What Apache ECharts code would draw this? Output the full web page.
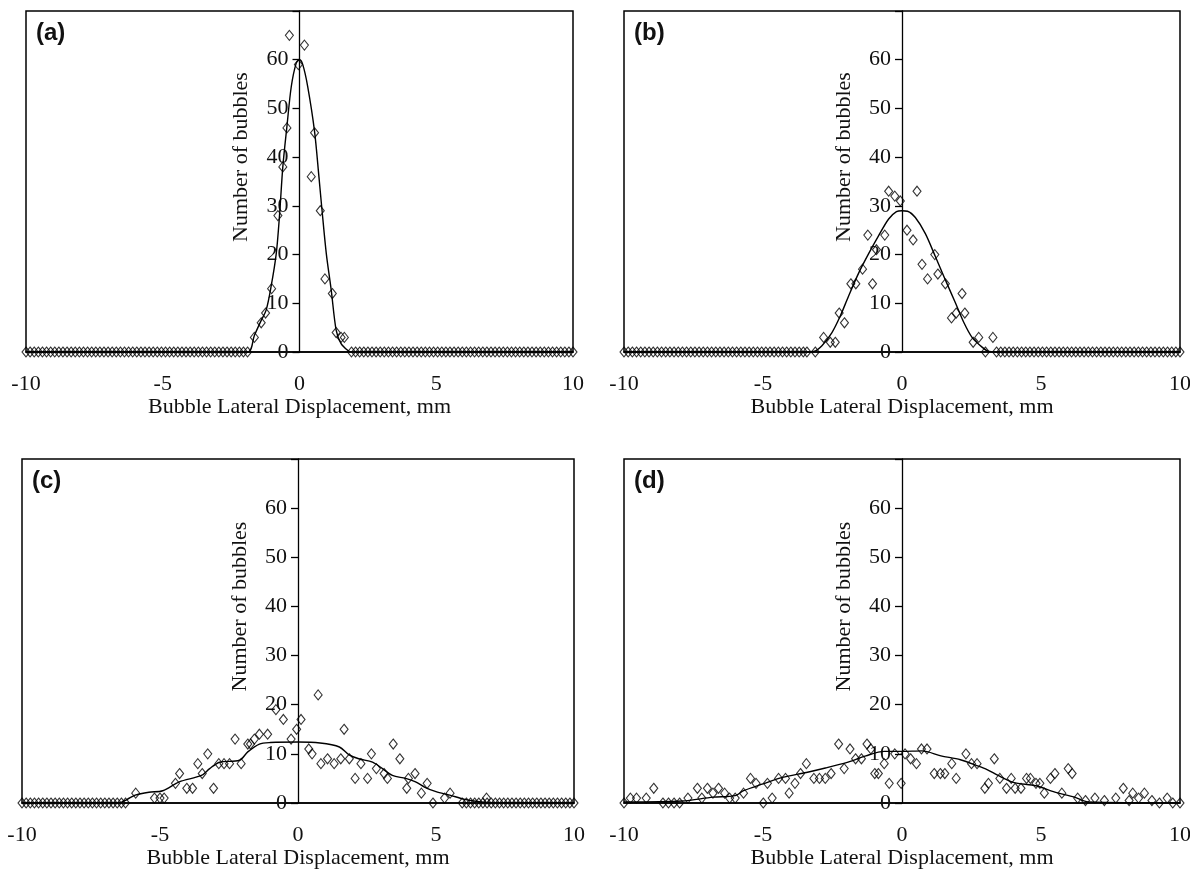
<!DOCTYPE html>
<html>
<head>
<meta charset="utf-8">
<title>Bubble lateral displacement distributions</title>
<script src="https://cdn.jsdelivr.net/npm/echarts@6/dist/echarts.min.js"></script>
<style>
  html, body { margin: 0; padding: 0; background: #ffffff; }
  #chart { width: 1190px; height: 877px; }
</style>
</head>
<body>
<div id="chart"></div>
<script>
// ---------- axis ticks ----------
const xTicks = [-10, -5, 0, 5, 10];
const yTicks = [0, 10, 20, 30, 40, 50, 60];

// ---------- panel (a) ----------
const aX = [-1.65, -1.40, -1.24, -1.02, -0.79, -0.61, -0.46, -0.37, -0.04, 0.18, 0.43, 0.55, 0.76, 0.93, 1.20, 1.34, 1.52, 1.64];
const aN = [3, 6, 8, 13, 28, 38, 46, 65, 59, 63, 36, 45, 29, 15, 12, 4, 3, 3];
const aEmpty = [-10,-9.85,-9.7,-9.55,-9.4,-9.25,-9.1,-8.95,-8.8,-8.65,-8.5,-8.35,-8.2,-8.05,-7.9,-7.75,-7.6,-7.45,-7.3,-7.15,-7,-6.85,-6.7,-6.55,-6.4,-6.25,-6.1,-5.95,-5.8,-5.65,-5.5,-5.35,-5.2,-5.05,-4.9,-4.75,-4.6,-4.45,-4.3,-4.15,-4,-3.85,-3.7,-3.55,-3.4,-3.25,-3.1,-2.95,-2.8,-2.65,-2.5,-2.35,-2.2,-2.05,-1.9,
  1.9,2.05,2.2,2.35,2.5,2.65,2.8,2.95,3.1,3.25,3.4,3.55,3.7,3.85,4,4.15,4.3,4.45,4.6,4.75,4.9,5.05,5.2,5.35,5.5,5.65,5.8,5.95,6.1,6.25,6.4,6.55,6.7,6.85,7,7.15,7.3,7.45,7.6,7.75,7.9,8.05,8.2,8.35,8.5,8.65,8.8,8.95,9.1,9.25,9.4,9.55,9.7,9.85,10];
const aFitX = [-10, -1.9, -1.65, -1.4, -1.22, -1.04, -0.85, -0.73, -0.61, -0.46, -0.3, -0.12, 0, 0.12, 0.3, 0.55, 0.71, 0.82, 0.98, 1.16, 1.34, 1.52, 1.77, 1.9, 10];
const aFitY = [0, 0, 3.4, 6.5, 8.6, 13.4, 20.2, 28.1, 38, 46.3, 54.5, 59.3, 60, 59, 54.5, 45.3, 36, 29.3, 20.2, 12.7, 4.5, 1.7, 0.3, 0, 0];

// ---------- panel (b) ----------
const bX = [-3.42, -3.12, -2.82, -2.58, -2.40, -2.26, -2.07, -1.84, -1.66, -1.42, -1.23, -1.06, -0.92, -0.62, -0.48, -0.26, -0.06, 0.18, 0.40, 0.54, 0.72, 0.92, 1.18, 1.29, 1.56, 1.78, 1.95, 2.16, 2.26, 2.56, 2.76, 3.00, 3.27];
const bN = [0, 0, 3, 2, 2, 8, 6, 14, 14, 17, 24, 14, 21, 24, 33, 32, 31, 25, 23, 33, 18, 15, 20, 16, 14, 7, 8, 12, 8, 2, 3, 0, 3];
const bEmpty = [-10,-9.85,-9.7,-9.55,-9.4,-9.25,-9.1,-8.95,-8.8,-8.65,-8.5,-8.35,-8.2,-8.05,-7.9,-7.75,-7.6,-7.45,-7.3,-7.15,-7,-6.85,-6.7,-6.55,-6.4,-6.25,-6.1,-5.95,-5.8,-5.65,-5.5,-5.35,-5.2,-5.05,-4.9,-4.75,-4.6,-4.45,-4.3,-4.15,-4,-3.85,-3.7,-3.55,
  3.4,3.55,3.7,3.85,4,4.15,4.3,4.45,4.6,4.75,4.9,5.05,5.2,5.35,5.5,5.65,5.8,5.95,6.1,6.25,6.4,6.55,6.7,6.85,7,7.15,7.3,7.45,7.6,7.75,7.9,8.05,8.2,8.35,8.5,8.65,8.8,8.95,9.1,9.25,9.4,9.55,9.7,9.85,10];
const bFitX = [-10, -3.4, -3.18, -2.88, -2.52, -2.22, -1.92, -1.56, -1.2, -0.84, -0.48, -0.2, 0, 0.2, 0.48, 0.84, 1.2, 1.56, 1.92, 2.22, 2.52, 2.88, 3.12, 3.4, 10];
const bFitY = [0, 0, 0.1, 1.3, 4, 7.4, 11.5, 16.2, 20.2, 23.9, 27.3, 28.8, 29, 28.9, 27.6, 24.3, 19.6, 14.8, 10.1, 6.1, 3, 1, 0.1, 0, 0];

// ---------- panel (c) ----------
const cX = [-5.88, -5.2, -5.0, -4.85, -4.44, -4.29, -4.03, -3.82, -3.63, -3.47, -3.27, -3.06, -2.87, -2.68, -2.48, -2.28, -2.06, -1.82, -1.72, -1.58, -1.4, -1.1, -0.8, -0.53, -0.25, -0.05, 0.11, 0.39, 0.51, 0.73, 0.83, 1.07, 1.31, 1.55, 1.67, 1.86, 2.07, 2.28, 2.52, 2.66, 2.84, 3.12, 3.24, 3.45, 3.69, 3.94, 4.0, 4.24, 4.47, 4.68, 4.89, 5.31, 5.51, 6.83];
const cN = [2, 1, 1, 1, 4, 6, 3, 3, 8, 6, 10, 3, 8, 8, 8, 13, 8, 12, 12, 13, 14, 14, 19, 17, 13, 15, 17, 11, 10, 22, 8, 9, 8, 9, 15, 9, 5, 8, 5, 10, 7, 6, 5, 12, 9, 3, 5, 6, 2, 4, 0, 1, 2, 1];
const cEmpty = [-10,-9.85,-9.7,-9.55,-9.4,-9.25,-9.1,-8.95,-8.8,-8.65,-8.5,-8.35,-8.2,-8.05,-7.9,-7.75,-7.6,-7.45,-7.3,-7.15,-7,-6.85,-6.7,-6.55,-6.4,-6.25,
  5.95,6.1,6.25,6.4,6.55,6.7,6.85,7,7.15,7.3,7.45,7.6,7.75,7.9,8.05,8.2,8.35,8.5,8.65,8.8,8.95,9.1,9.25,9.4,9.55,9.7,9.85,10];
const cFitX = [-10, -6.5, -6.2, -5.9, -5.4, -4.9, -4.3, -3.5, -3.2, -2.84, -2.12, -1.82, -1.4, -1.0, 0, 0.8, 1.5, 1.85, 2.2, 2.7, 3.06, 3.42, 3.9, 4.26, 4.6, 5.0, 5.5, 6.0, 6.5, 7.0, 10];
const cFitY = [0, 0, 0.7, 1.6, 2.2, 2.5, 4.3, 5.6, 7, 8.3, 8.7, 10.4, 12, 12.3, 12.4, 12.2, 11.4, 9.8, 9, 8.3, 7, 5.6, 5, 4.3, 3.2, 2.3, 1.6, 0.8, 0.3, 0, 0];

// ---------- panel (d) ----------
const dX = [-10, -9.77, -9.55, -9.2, -8.93, -8.6, -8.4, -8.2, -8.0, -7.7, -7.36, -7.2, -7.0, -6.8, -6.6, -6.38, -6.2, -6.0, -5.7, -5.45, -5.25, -4.99, -4.84, -4.67, -4.44, -4.19, -4.06, -3.85, -3.65, -3.44, -3.17, -2.97, -2.76, -2.55, -2.28, -2.08, -1.87, -1.67, -1.46, -1.26, -1.12, -0.98, -0.85, -0.64, -0.46, -0.26, -0.03, 0.11, 0.31, 0.52, 0.7, 0.9, 1.16, 1.38, 1.54, 1.79, 1.95, 2.3, 2.5, 2.7, 2.98, 3.11, 3.32, 3.52, 3.76, 3.93, 4.07, 4.28, 4.48, 4.62, 4.82, 4.96, 5.12, 5.34, 5.5, 5.75, 5.98, 6.12, 6.32, 6.6, 6.94, 7.28, 7.69, 7.96, 8.17, 8.3, 8.51, 8.72, 8.99, 9.26, 9.54, 9.74, 10];
const dN = [0, 1, 1, 1, 3, 0, 0, 0, 0, 1, 3, 1, 3, 2, 3, 2, 1, 1, 2, 5, 4, 0, 4, 1, 5, 5, 2, 4, 6, 8, 5, 5, 5, 6, 12, 7, 11, 9, 9, 12, 11, 6, 6, 8, 4, 10, 4, 10, 9, 8, 11, 11, 6, 6, 6, 8, 5, 10, 8, 8, 3, 4, 9, 5, 3, 5, 3, 3, 5, 5, 4, 4, 2, 5, 6, 2, 7, 6, 1, 0.5, 1, 0.5, 1, 3, 0.5, 2, 1, 2, 0.5, 0, 1, 0, 0];
const dEmpty = [];
const dFitX = [-10, -7.9, -6.8, -6.0, -5.7, -5.0, -4.3, -3.44, -2.7, -2.0, -1.3, -0.64, 0, 0.72, 1.4, 2.1, 2.75, 3.06, 3.46, 4.0, 4.82, 5.5, 6.2, 6.7, 10];
const dFitY = [0.2, 0.4, 1.2, 1.5, 2.5, 3.9, 5.2, 6.2, 7.2, 8.2, 9.6, 10.5, 10.5, 10.6, 9.6, 8.8, 7.5, 6.8, 5.6, 4.2, 3.5, 2.2, 1.2, 0.2, 0];

// ---------- layout of the four plot frames ----------
const panels = [
  { tag: '(a)', left: 26,  top: 11,  width: 547, height: 341, x: aX, n: aN, empty: aEmpty, fx: aFitX, fy: aFitY },
  { tag: '(b)', left: 624, top: 11,  width: 556, height: 341, x: bX, n: bN, empty: bEmpty, fx: bFitX, fy: bFitY },
  { tag: '(c)', left: 22,  top: 459, width: 552, height: 344, x: cX, n: cN, empty: cEmpty, fx: cFitX, fy: cFitY },
  { tag: '(d)', left: 624, top: 459, width: 556, height: 344, x: dX, n: dN, empty: dEmpty, fx: dFitX, fy: dFitY }
];

const serif = '"Liberation Serif", "Times New Roman", serif';
const textCol = '#111';
const xMin = xTicks[0], xMax = xTicks[xTicks.length - 1];

const zip = (xs, ys) => xs.map((v, i) => [v, ys[i]]);

const grids = [], xAxes = [], yAxes = [], series = [], graphics = [];

panels.forEach((p, i) => {
  grids.push({
    left: p.left, top: p.top, width: p.width, height: p.height,
    show: true, borderColor: '#000', borderWidth: 1.5, backgroundColor: 'transparent',
    containLabel: false, outerBoundsMode: 'none'
  });
  xAxes.push({
    gridIndex: i, type: 'value', min: xMin, max: xMax,
    interval: xTicks[1] - xTicks[0],
    axisLine: { onZero: true, lineStyle: { color: '#000', width: 1.5 } },
    axisTick: { show: false },
    splitLine: { show: false },
    axisLabel: { color: textCol, fontFamily: serif, fontSize: 22, margin: 21 },
    name: 'Bubble Lateral Displacement, mm',
    nameLocation: 'middle', nameGap: 43,
    nameTextStyle: { color: textCol, fontFamily: serif, fontSize: 22 }
  });
  // vertical axis crosses the horizontal one at x = 0
  const zeroOffset = p.width * (0 - xMin) / (xMax - xMin);
  yAxes.push({
    gridIndex: i, type: 'value', min: 0, max: 70, interval: yTicks[1] - yTicks[0],
    position: 'left', offset: -zeroOffset,
    axisLine: { onZero: false, lineStyle: { color: '#000', width: 1.3 } },
    axisTick: { show: true, length: 7, lineStyle: { color: '#000', width: 1.3 } },
    splitLine: { show: false },
    axisLabel: {
      color: textCol, fontFamily: serif, fontSize: 22, margin: 11,
      formatter: v => (yTicks.indexOf(v) >= 0 ? String(v) : '')
    },
    name: 'Number of bubbles',
    nameLocation: 'middle', nameGap: 47, nameRotate: 90,
    nameTextStyle: { color: textCol, fontFamily: serif, fontSize: 22, padding: [0, 0, 0, 49] }
  });
  series.push({
    type: 'line', xAxisIndex: i, yAxisIndex: i,
    data: zip(p.fx, p.fy),
    smooth: 0.3, showSymbol: false, silent: true,
    lineStyle: { color: '#000', width: 1.4 }, z: 2
  });
  series.push({
    type: 'scatter', xAxisIndex: i, yAxisIndex: i,
    data: zip(p.x, p.n).concat(p.empty.map(v => [v, 0])),
    symbol: 'diamond', symbolSize: [8, 10], silent: true,
    itemStyle: { color: 'rgba(0,0,0,0)', borderColor: '#000', borderWidth: 1.1 }, z: 3
  });
  graphics.push({
    type: 'text', left: p.left + 10, top: p.top + 10,
    style: { text: p.tag, font: 'bold 24px "Liberation Sans", Arial, sans-serif', fill: '#111' }
  });
});

const chart = echarts.init(document.getElementById('chart'), null, { renderer: 'canvas' });
chart.setOption({
  animation: false,
  backgroundColor: '#ffffff',
  grid: grids,
  xAxis: xAxes,
  yAxis: yAxes,
  series: series,
  graphic: graphics
});
</script>
</body>
</html>
